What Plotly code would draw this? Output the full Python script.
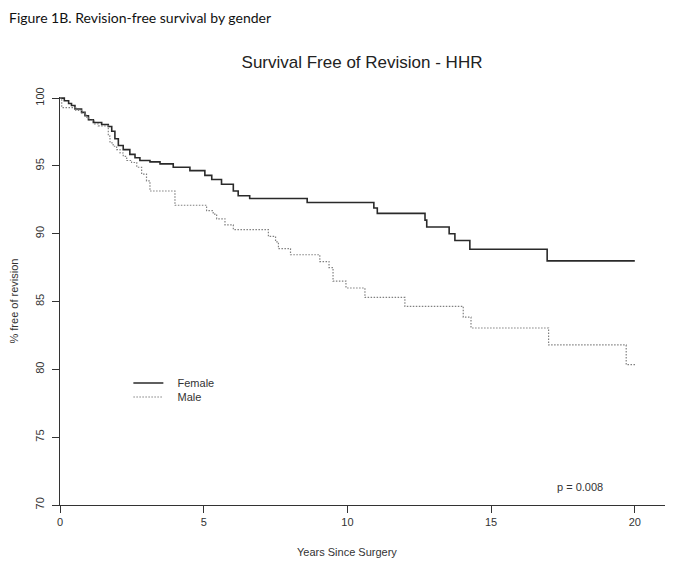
import plotly.graph_objects as go

# Kaplan-Meier step data
female_years = [0, 0.15, 0.3, 0.4, 0.52, 0.75, 0.87, 0.99, 1.16, 1.45, 1.68, 1.8, 1.91, 2.03,
                2.2, 2.43, 2.61, 2.78, 3.13, 3.48, 3.94, 4.52, 5.04, 5.28, 5.62, 6.03, 6.2,
                6.6, 8.6, 10.92, 11.04, 12.7, 12.76, 13.54, 13.74, 14.26, 16.95, 20.0]
female_surv = [100, 99.8, 99.6, 99.45, 99.2, 98.95, 98.7, 98.4, 98.2, 98.05, 97.9, 97.55, 97.0, 96.5,
               96.2, 95.85, 95.6, 95.4, 95.3, 95.15, 94.9, 94.65, 94.3, 94.0, 93.65, 93.15, 92.8,
               92.6, 92.3, 91.9, 91.5, 91.0, 90.5, 90.0, 89.5, 88.85, 88.0, 88.0]

male_years = [0, 0.06, 0.55, 0.75, 0.9, 1.0, 1.2, 1.33, 1.68, 1.74, 1.85, 1.97, 2.09, 2.2, 2.32,
              2.49, 2.67, 2.84, 3.01, 3.13, 4.0, 5.1, 5.33, 5.45, 5.74, 6.03, 7.25, 7.5, 7.6,
              8.02, 9.04, 9.36, 9.5, 9.95, 10.61, 12.0, 14.03, 14.3, 17.0, 19.7, 20.05]
male_surv = [100, 99.3, 99.1, 98.9, 98.6, 98.35, 98.1, 97.95, 97.2, 96.7, 96.45, 96.2, 95.95, 95.7, 95.4,
             95.25, 94.9, 94.4, 93.9, 93.15, 92.1, 91.7, 91.45, 91.1, 90.65, 90.3, 89.8, 89.4, 88.9,
             88.45, 87.95, 87.5, 86.5, 86.0, 85.3, 84.65, 83.85, 83.05, 81.8, 80.35, 80.35]

x_ticks = [0, 5, 10, 15, 20]
y_ticks = [70, 75, 80, 85, 90, 95, 100]

FONT = "Liberation Sans"
W, H = 665, 562  # page adds an 8px body margin
PAD = "\u00a0\u00a0\u00a0"

fig = go.Figure()
fig.add_trace(go.Scatter(x=female_years, y=female_surv, mode="lines", name=PAD + "Female",
                         legend="legend",
                         line=dict(shape="hv", color="#2a2a2a", width=1.6)))
fig.add_trace(go.Scatter(x=male_years, y=male_surv, mode="lines", name=PAD + "Male",
                         legend="legend2",
                         line=dict(shape="hv", color="#808080", width=1.2, dash="1.5px,1.5px")))

leg_common = dict(xanchor="left", yanchor="middle", bgcolor="rgba(0,0,0,0)",
                  font=dict(size=11, color="#333", family=FONT))

fig.update_layout(
    width=W, height=H,
    margin=dict(l=52, r=8, t=89, b=65),
    plot_bgcolor="white", paper_bgcolor="white",
    font=dict(family=FONT, size=11, color="#333"),
    title=dict(text="Survival Free of Revision - HHR", x=354 / W, xanchor="center",
               y=1 - 54 / H, yanchor="middle", font=dict(size=17, color="#222", family=FONT)),
    showlegend=True,
    legend=dict(x=0.113, y=(505 - 383) / 408, **leg_common),
    legend2=dict(x=0.113, y=(505 - 397) / 408, **leg_common),
    xaxis=dict(range=[0, 21.05], tickvals=x_ticks, showgrid=False, zeroline=False,
               showline=True, linecolor="#333", linewidth=1.2, ticks="outside", ticklen=7,
               tickcolor="#333", tickfont=dict(size=11, color="#333", family=FONT)),
    yaxis=dict(range=[70, 100.08], tickvals=y_ticks, showgrid=False, zeroline=False,
               showline=True, linecolor="#333", linewidth=1.2, ticks="outside", ticklen=7,
               tickcolor="#333", tickangle=-90, ticklabelstandoff=4,
               tickfont=dict(size=11, color="#333", family=FONT)),
    annotations=[
        dict(text="Figure 1B. Revision-free survival by gender", xref="paper", yref="paper",
             x=(8 - 60) / 605, y=(505 - 8) / 408, xanchor="left", yanchor="top", borderpad=0,
             showarrow=False, font=dict(family="Lato", size=14, color="#111")),
        dict(text="Years Since Surgery", xref="x", yref="paper", x=10, y=(505 - 552) / 408,
             xanchor="center", yanchor="middle", showarrow=False,
             font=dict(size=11, color="#333", family=FONT)),
        dict(text="% free of revision", xref="paper", yref="y", x=(14 - 60) / 605, y=85,
             xanchor="center", yanchor="middle", textangle=-90, showarrow=False,
             font=dict(size=11, color="#333", family=FONT)),
        dict(text="p = 0.008", xref="x", yref="y", x=18.09, y=71.32, xanchor="center",
             yanchor="middle", showarrow=False, font=dict(size=11, color="#333", family=FONT)),
    ],
)

fig.write_html("out.html")
